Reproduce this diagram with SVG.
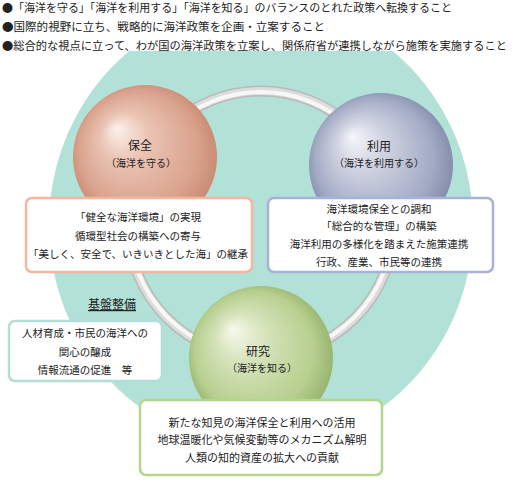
<svg xmlns="http://www.w3.org/2000/svg" width="520" height="481" viewBox="0 0 520 481">
<defs>
<radialGradient id="gP" cx="0.5" cy="0.5" r="0.55" fx="0.3" fy="0.3">
<stop offset="0" stop-color="#fcf1ec"/>
<stop offset="0.3" stop-color="#ebc4b4"/>
<stop offset="0.75" stop-color="#d9a28c"/>
<stop offset="1" stop-color="#c4846c"/>
</radialGradient>
<radialGradient id="gB" cx="0.5" cy="0.5" r="0.55" fx="0.3" fy="0.3">
<stop offset="0" stop-color="#f6f7fb"/>
<stop offset="0.3" stop-color="#d0d4e2"/>
<stop offset="0.75" stop-color="#a3aac4"/>
<stop offset="1" stop-color="#7a84a4"/>
</radialGradient>
<radialGradient id="gG" cx="0.5" cy="0.5" r="0.55" fx="0.3" fy="0.3">
<stop offset="0" stop-color="#f7f9ec"/>
<stop offset="0.3" stop-color="#d6e4bc"/>
<stop offset="0.75" stop-color="#b7cf8f"/>
<stop offset="1" stop-color="#8eac64"/>
</radialGradient>
<clipPath id="clipTop"><rect x="0" y="51" width="520" height="430"/></clipPath>
<style>
text{font-family:"Noto Sans CJK JP","Noto Sans CJK SC",sans-serif;fill:#222;}
.top{font-size:11px;}
.ttl{font-size:12px;text-anchor:middle;}
.sub{font-size:10px;text-anchor:middle;}
.bt{font-size:10.5px;text-anchor:middle;}
.box{fill:#fff;stroke-width:2.5;}
</style>
</defs>
<rect width="520" height="481" fill="#fff"/>
<ellipse cx="261" cy="225" rx="212" ry="222" fill="#b2e1d7" clip-path="url(#clipTop)"/>

<g id="header">
<text class="top" x="2" y="12" textLength="450" lengthAdjust="spacingAndGlyphs">●「海洋を守る」「海洋を利用する」「海洋を知る」のバランスのとれた政策へ転換すること</text>
<text class="top" x="2" y="31" textLength="323" lengthAdjust="spacingAndGlyphs">●国際的視野に立ち、戦略的に海洋政策を企画・立案すること</text>
<text class="top" x="2" y="50" textLength="505" lengthAdjust="spacingAndGlyphs">●総合的な視点に立って、わが国の海洋政策を立案し、関係府省が連携しながら施策を実施すること</text>
</g>

<g id="connectors" fill="none">
<circle cx="261" cy="224" r="133" stroke="#b9b9b9" stroke-width="11"/>
<circle cx="261" cy="224" r="133" stroke="#dcdcdc" stroke-width="8"/>
<circle cx="261" cy="224" r="132" stroke="#f7f7f7" stroke-width="4"/>
</g>

<g id="hozen">
<circle cx="145" cy="157" r="72" fill="url(#gP)"/>
<text class="ttl" x="140" y="150">保全</text>
<text class="sub" x="141" y="167">（海洋を守る）</text>
</g>
<g id="riyou">
<circle cx="381" cy="165" r="72" fill="url(#gB)"/>
<text class="ttl" x="379" y="151">利用</text>
<text class="sub" x="379" y="167">（海洋を利用する）</text>
</g>
<g id="kenkyu">
<circle cx="261" cy="358" r="72" fill="url(#gG)"/>
<text class="ttl" x="258" y="356">研究</text>
<text class="sub" x="262" y="372">（海洋を知る）</text>
</g>

<g id="hozen-box">
<rect class="box" x="26" y="198" width="226" height="74" rx="6" stroke="#f3b6a1"/>
<text class="bt" x="138" y="221">「健全な海洋環境」の実現</text>
<text class="bt" x="138" y="240">循環型社会の構築への寄与</text>
<text class="bt" x="138" y="258">「美しく、安全で、いきいきとした海」の継承</text>
</g>
<g id="riyou-box">
<rect class="box" x="268" y="198" width="225" height="74" rx="6" stroke="#a8b2d8"/>
<text class="bt" x="379" y="213">海洋環境保全との調和</text>
<text class="bt" x="379" y="230">「総合的な管理」の構築</text>
<text class="bt" x="379" y="248">海洋利用の多様化を踏まえた施策連携</text>
<text class="bt" x="379" y="266">行政、産業、市民等の連携</text>
</g>
<g id="kenkyu-box">
<rect class="box" x="140" y="400" width="242" height="75" rx="6" stroke="#b4d58c"/>
<text class="bt" x="262" y="427" style="font-size:11px">新たな知見の海洋保全と利用への活用</text>
<text class="bt" x="262" y="444" style="font-size:11px">地球温暖化や気候変動等のメカニズム解明</text>
<text class="bt" x="262" y="462" style="font-size:11px">人類の知的資産の拡大への貢献</text>
</g>
<g id="kiban">
<text class="ttl" x="112" y="309" text-decoration="underline">基盤整備</text>
<rect class="box" x="9" y="321" width="153" height="60" rx="6" stroke="#b3ded5"/>
<text class="bt" x="85" y="337">人材育成・市民の海洋への</text>
<text class="bt" x="85" y="356">関心の醸成</text>
<text class="bt" x="85" y="374">情報流通の促進　等</text>
</g>
</svg>
